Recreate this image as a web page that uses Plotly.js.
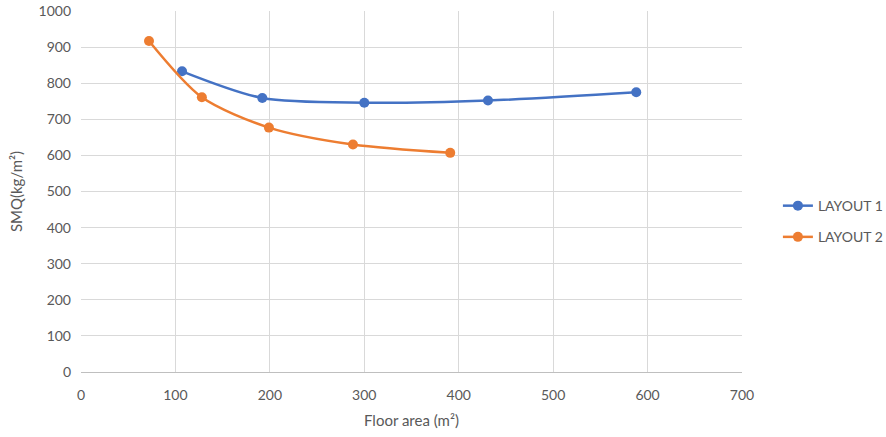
<!DOCTYPE html>
<html><head><meta charset="utf-8">
<script src="https://cdn.plot.ly/plotly-3.0.1.min.js"></script>
<style>html,body{margin:0;padding:0;background:#fff}#chart{width:886px;height:437px}</style>
</head><body><div id="chart"></div>
<script>
const layout1X = [107, 192, 300, 431, 588];
const layout1Y = [833, 759, 746, 752, 775];
const layout2X = [72, 128, 199, 288, 391];
const layout2Y = [917, 761, 677, 630, 607];
const seriesNames = ["LAYOUT 1", "LAYOUT 2"];
const xTicks = [0, 100, 200, 300, 400, 500, 600, 700];
const yTicks = [0, 100, 200, 300, 400, 500, 600, 700, 800, 900, 1000];

const font = {family: "Lato, sans-serif", size: 14, color: "#595959"};
const titleFont = {family: "Lato, sans-serif", size: 15, color: "#595959"};
const traces = [
  {x: layout1X, y: layout1Y, name: seriesNames[0], legendgroup: "a", mode: "lines+markers",
   line: {color: "#4472C4", width: 2.5, shape: "spline", smoothing: 0.8},
   marker: {color: "#4472C4", size: 10}},
  {x: layout2X, y: layout2Y, name: seriesNames[1], legendgroup: "b", mode: "lines+markers",
   line: {color: "#ED7D31", width: 2.5, shape: "spline", smoothing: 0.8},
   marker: {color: "#ED7D31", size: 10}}
];
const layout = {
  width: 886, height: 437,
  margin: {l: 81, r: 144, t: 11, b: 65},
  paper_bgcolor: "#fff", plot_bgcolor: "#fff",
  font: font,
  showlegend: true,
  legend: {xref: "container", yref: "container", x: 0.878, y: 0.493, xanchor: "left", yanchor: "middle", font: font, tracegroupgap: 10},
  xaxis: {range: [0, 700], tickvals: xTicks, ticktext: xTicks.map(String), showgrid: true, gridcolor: "#d9d9d9", gridwidth: 1,
          zeroline: false, showline: true, linecolor: "#bfbfbf", linewidth: 1, ticks: "", ticklen: 0, tickfont: font,
          ticklabelstandoff: 10, automargin: false,
          title: {text: "Floor area (m²)", font: titleFont, standoff: 13}, fixedrange: true},
  yaxis: {range: [0, 1000], tickvals: yTicks, ticktext: yTicks.map(String), showgrid: true, gridcolor: "#d9d9d9", gridwidth: 1,
          zeroline: false, showline: false, ticks: "", tickfont: font, ticklabelstandoff: 9, automargin: false,
          title: {text: "SMQ(kg/m²)", font: titleFont, standoff: 12}, fixedrange: true}
};
Plotly.newPlot("chart", traces, layout, {displayModeBar: false, staticPlot: true});
</script></body></html>
